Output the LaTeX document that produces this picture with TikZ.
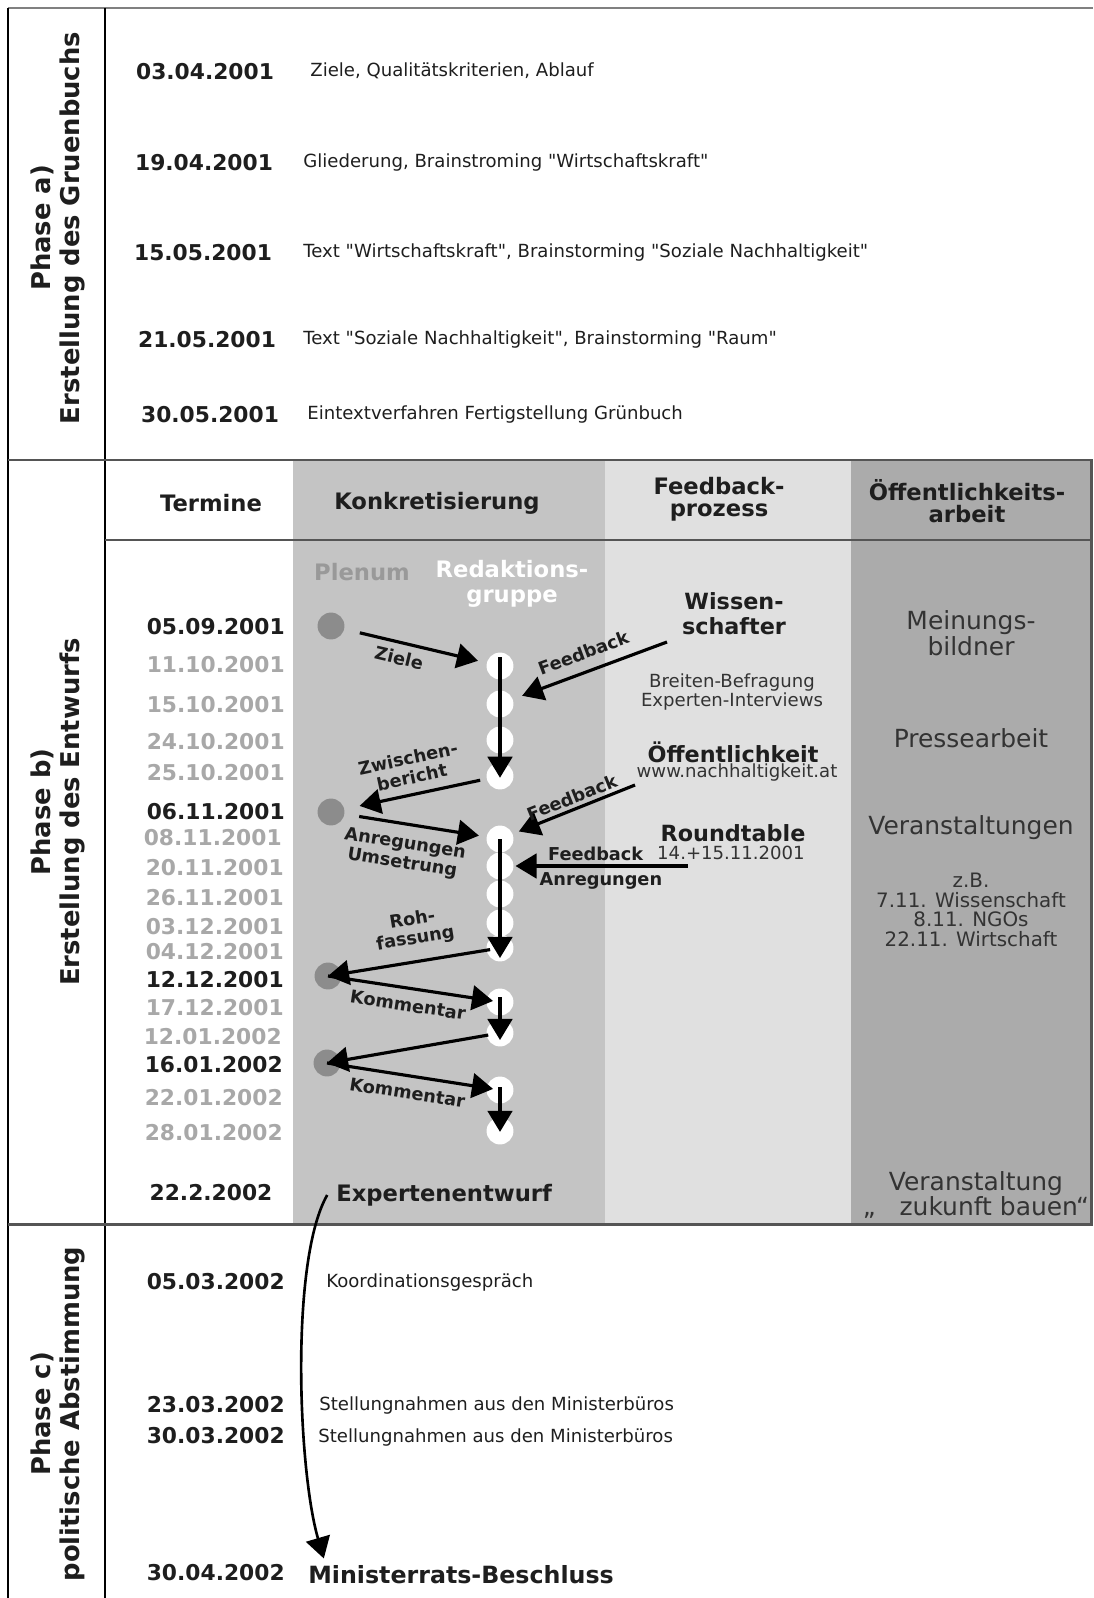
\documentclass[tikz,border=0pt]{standalone}
\usepackage{fontspec}
\setmainfont{DejaVu Sans}
\usetikzlibrary{arrows.meta}

\definecolor{konkret}{HTML}{C4C4C4}
\definecolor{fbgrau}{HTML}{E0E0E0}
\definecolor{oeffgrau}{HTML}{ABABAB}
\definecolor{plenumgrau}{HTML}{8C8C8C}
\definecolor{plenumtext}{HTML}{999999}
\definecolor{datumgrau}{HTML}{A8A8A8}
\definecolor{rahmen}{HTML}{555555}
\definecolor{schrift}{HTML}{1E1E1E}
\definecolor{oeffschrift}{HTML}{333333}

\newcommand{\fsz}[2]{\fontsize{#1}{#2}\selectfont}
\newcommand{\qq}{\textquotedbl}

\begin{document}
\begin{tikzpicture}[x=0.02cm, y=-0.02cm,
    every node/.style={inner sep=0pt, text=schrift},
    phase/.style={rotate=90, align=center, font=\bfseries\fsz{14.7}{16.2}},
    datum/.style={font=\bfseries\fsz{12.4}{14}},
    hell/.style={datum, text=datumgrau},
    notiz/.style={anchor=west, font=\fsz{10.3}{12}},
    kopf/.style={align=center, font=\bfseries\fsz{12.9}{12.5}},
    quelle/.style={align=center, font=\bfseries\fsz{12.7}{14.2}},
    klein/.style={align=center, text=oeffschrift, font=\fsz{10.3}{10.8}},
    oeff/.style={align=center, text=oeffschrift, font=\fsz{14.2}{13}},
    pfeiltext/.style={align=center, font=\bfseries\fsz{10.1}{11}, sloped},
    plenum/.style={circle, minimum size=15.3pt, fill=plenumgrau},
    redaktion/.style={circle, minimum size=15.3pt, fill=white},
    flow/.style={line width=1.8pt, -{Triangle[length=12pt,width=14pt]}},
    flowback/.style={line width=1.8pt, {Triangle[length=12pt,width=14pt]}-}
  ]
\useasboundingbox (0,0) rectangle (1093,1598);

% Spalten Phase b
\fill[konkret] (293,460) rectangle (605,1224);
\fill[fbgrau] (605,460) rectangle (851,1224);
\fill[oeffgrau] (851,460) rectangle (1091,1224);

% Rahmen
\draw[line width=1.4pt, gray] (8,8) -- (1093,8);
\draw[line width=1.2pt] (8,8) -- (8,1598);
\draw[line width=1.2pt] (105,8) -- (105,1598);
\draw[line width=1.7pt, rahmen] (8,460) -- (1091,460) -- (1091,1224) -- (8,1224);
\draw[line width=1.7pt, rahmen] (105,540) -- (1091,540);

% Phasen
\node[phase] (pa) at (58,228) {Phase a)\\Erstellung des Gruenbuchs};
\node[phase] (pb) at (58,812) {Phase b)\\Erstellung des Entwurfs};
\node[phase] (pc) at (58,1414) {Phase c)\\politische Abstimmung};

% Phase a
\node[datum] (a1) at (205,72) {03.04.2001};
\node[notiz] (n1) at (310,71) {Ziele, Qualitätskriterien, Ablauf};
\node[datum] (a2) at (204,163) {19.04.2001};
\node[notiz] (n2) at (303,163) {Gliederung, Brainstroming \qq Wirtschaftskraft\qq};
\node[datum] (a3) at (203,253) {15.05.2001};
\node[notiz] (n3) at (303,253) {Text \qq Wirtschaftskraft\qq, Brainstorming \qq Soziale Nachhaltigkeit\qq};
\node[datum] (a4) at (207,340) {21.05.2001};
\node[notiz] (n4) at (303,340) {Text \qq Soziale Nachhaltigkeit\qq, Brainstorming \qq Raum\qq};
\node[datum] (a5) at (210,415) {30.05.2001};
\node[notiz] (n5) at (307,415) {Eintextverfahren Fertigstellung Grünbuch};

% Phase b: Kopfzeile
\node[kopf] (hT) at (211,503) {Termine};
\node[kopf] (hK) at (437,503) {Konkretisierung};
\node[kopf] (hF) at (719,499) {Feedback-\\prozess};
\node[kopf] (hO) at (967,501) {Öffentlichkeits-\\arbeit};
\node[kopf, text=plenumtext] (tpl) at (362,572) {Plenum};
\node[kopf, text=white, font=\bfseries\fsz{12.9}{14.2}] (trg) at (512,584) {Redaktions-\\gruppe};

% Termine
\node[datum, anchor=east] (d1) at (285,627) {05.09.2001};
\node[hell, anchor=east] (d2) at (285,665) {11.10.2001};
\node[hell, anchor=east] (d3) at (285,705) {15.10.2001};
\node[hell, anchor=east] (d4) at (285,742) {24.10.2001};
\node[hell, anchor=east] (d5) at (285,773) {25.10.2001};
\node[datum, anchor=east] (d6) at (285,812) {06.11.2001};
\node[hell, anchor=east] (d7) at (282,838) {08.11.2001};
\node[hell, anchor=east] (d8) at (284,868) {20.11.2001};
\node[hell, anchor=east] (d9) at (284,898) {26.11.2001};
\node[hell, anchor=east] (d10) at (284,927) {03.12.2001};
\node[hell, anchor=east] (d11) at (284,952) {04.12.2001};
\node[datum, anchor=east] (d12) at (284,980) {12.12.2001};
\node[hell, anchor=east] (d13) at (284,1008) {17.12.2001};
\node[hell, anchor=east] (d14) at (282,1037) {12.01.2002};
\node[datum, anchor=east] (d15) at (283,1065) {16.01.2002};
\node[hell, anchor=east] (d16) at (283,1098) {22.01.2002};
\node[hell, anchor=east] (d17) at (283,1133) {28.01.2002};
\node[datum] (d18) at (211,1193) {22.2.2002};

% Plenum und Redaktionsgruppe
\node[plenum] (pl1) at (331,626) {};
\node[plenum] (pl2) at (331,812) {};
\node[plenum] (pl3) at (328,976) {};
\node[plenum] (pl4) at (327,1063) {};
\node[redaktion] (rg1) at (500,666) {};
\node[redaktion] (rg2) at (500,704) {};
\node[redaktion] (rg3) at (500,740) {};
\node[redaktion] (rg4) at (500,776) {};
\node[redaktion] (rg5) at (500,839) {};
\node[redaktion] (rg6) at (500,866) {};
\node[redaktion] (rg7) at (500,894) {};
\node[redaktion] (rg8) at (500,923) {};
\node[redaktion] (rg9) at (500,948) {};
\node[redaktion] (rg10) at (500,1002) {};
\node[redaktion] (rg11) at (500,1033) {};
\node[redaktion] (rg12) at (500,1090) {};
\node[redaktion] (rg13) at (500,1131) {};

% Feedbackprozess
\node[quelle] (wiss) at (734,614) {Wissen-\\schafter};
\node[klein] (befr) at (732,692) {Breiten-Befragung\\Experten-Interviews};
\node[quelle] (oeffk) at (733,752) {Öffentlichkeit};
\node[klein] (www) at (737,773) {www.nachhaltigkeit.at};
\node[quelle] (rt) at (733,833) {Roundtable};
\node[klein] (rtdat) at (731,853) {14.+15.11.2001};
\coordinate (wissaus) at (667,642);
\coordinate (oeffaus) at (635,785);
\coordinate (rtaus) at (688,866);

% Oeffentlichkeitsarbeit
\node[oeff] (mein) at (971,633) {Meinungs-\\bildner};
\node[oeff] (presse) at (971,738) {Pressearbeit};
\node[oeff] (veran) at (971,828) {Veranstaltungen};
\node[oeff, font=\fsz{11.3}{11.2}] (zb) at (971,910) {z.B.\\7.11. Wissenschaft\\8.11. NGOs\\22.11. Wirtschaft};
\node[oeff] (zuk) at (976,1195) {Veranstaltung\\„\ \ \ zukunft bauen“};

% Pfeile
\draw[flow, shorten <=9pt, shorten >=5pt] (pl1) -- (rg1) node[pfeiltext, pos=0.41, below=4pt] {Ziele};
\draw[flow, shorten <=-5pt, shorten >=-1pt] (rg1.center) -- (rg4.center);
\draw[flowback, shorten <=5.6pt] (rg2) -- (wissaus) node[pfeiltext, midway, above=6pt] {Feedback};
\draw[flowback, shorten <=8.8pt, shorten >=3.7pt] (pl2) -- (rg4) node[pfeiltext, midway, above=5pt] {Zwischen-\\bericht};
\draw[flow, shorten <=8.4pt, shorten >=4.3pt] (pl2) -- (rg5) node[pfeiltext, pos=0.45, below=6pt] {Anregungen\\Umsetrung};
\draw[flowback, shorten <=3.7pt] (rg5) -- (oeffaus) node[pfeiltext, pos=0.52, above=2pt] {Feedback};
\draw[flowback, shorten <=1pt] (rg6) -- (rtaus) node[pfeiltext, pos=0.47, above=2pt] {Feedback} node[pfeiltext, midway, below=3pt] {Anregungen};
\draw[flow, shorten >=-5.7pt] (rg5.center) -- (rg9.center);
\draw[flowback, shorten >=5.7pt] (pl3.center) -- (rg9.center) node[pfeiltext, pos=0.53, above=7pt] {Roh-\\fassung};
\draw[flow, shorten >=4pt] (pl3.center) -- (rg10.center) node[pfeiltext, pos=0.48, below=5pt] {Kommentar};
\draw[flow, shorten <=-2.8pt, shorten >=-4pt] (rg10.center) -- (rg11.center);
\draw[flowback, shorten >=6.8pt] (pl4.center) -- (rg11.center);
\draw[flow, shorten >=4pt] (pl4.center) -- (rg12.center) node[pfeiltext, pos=0.48, below=5pt] {Kommentar};
\draw[flow, shorten <=-1.7pt, shorten >=-0.5pt] (rg12.center) -- (rg13.center);

% Expertenentwurf und Phase c
\node[kopf, anchor=west] (ee) at (336,1195) {Expertenentwurf};
\node[datum, anchor=east] (c1) at (285,1282) {05.03.2002};
\node[notiz] (m1) at (326,1282) {Koordinationsgespräch};
\node[datum, anchor=east] (c2) at (285,1405) {23.03.2002};
\node[notiz] (m2) at (319,1405) {Stellungnahmen aus den Ministerbüros};
\node[datum, anchor=east] (c3) at (285,1436) {30.03.2002};
\node[notiz] (m3) at (318,1437) {Stellungnahmen aus den Ministerbüros};
\node[datum, anchor=east] (c4) at (285,1573) {30.04.2002};
\node[kopf, anchor=west, font=\bfseries\fsz{13.5}{14}] (mrb) at (308,1575) {Ministerrats-Beschluss};
\draw[flow, line width=1.5pt] ([xshift=-5pt]ee.west) .. controls (290,1260) and (298,1470) .. ([xshift=9pt,yshift=4pt]mrb.north west);
\end{tikzpicture}
\end{document}
